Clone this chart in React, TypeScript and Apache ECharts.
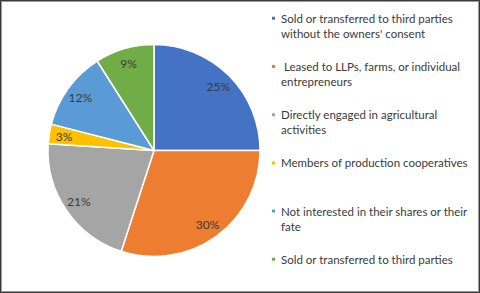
import React, { useEffect, useRef } from "react";
import * as echarts from "echarts";

const categories = [
  "Sold or transferred to third parties without the owners' consent",
  " Leased to LLPs, farms, or individual entrepreneurs",
  "Directly engaged in agricultural activities",
  "Members of production cooperatives",
  "Not interested in their shares or their fate",
  "Sold or transferred to third parties",
];
const legendLabels = [
  "Sold or transferred to third parties\nwithout the owners' consent",
  " Leased to LLPs, farms, or individual\nentrepreneurs",
  "Directly engaged in agricultural\nactivities",
  "Members of production cooperatives",
  "Not interested in their shares or their\nfate",
  "Sold or transferred to third parties",
];
const values = [25, 30, 21, 3, 12, 9];
const colors = ["#4472C4", "#ED7D31", "#A5A5A5", "#FFC000", "#5B9BD5", "#70AD47"];

const FONT = "Lato";

// every legend entry is laid out as a 3-line block whose middle line is the first text line
const legendBlock = (label: string) =>
  label.includes("\n") ? "\n" + label : "\n" + label + "\n";

export default function App() {
  const ref = useRef<HTMLDivElement>(null);
  useEffect(() => {
    if (!ref.current) return;
    const chart = echarts.init(ref.current, undefined, { renderer: "svg" });
    const center = [154, 150.5];
    chart.setOption({
      animation: false,
      color: colors,
      legend: {
        orient: "vertical",
        left: 270,
        top: -4.2,
        padding: 0,
        itemGap: 3.2,
        itemWidth: 5,
        itemHeight: 5,
        icon: "rect",
        selectedMode: false,
        formatter: (name: string) => legendBlock(legendLabels[categories.indexOf(name)]),
        textStyle: {
          fontFamily: FONT,
          fontSize: 11.5,
          color: "#3a3a3a",
          lineHeight: 15,
          backgroundColor: "rgba(255,255,255,0)",
        },
        data: categories,
      },
      series: [
        {
          type: "pie",
          center,
          radius: [0, 106],
          startAngle: 90,
          clockwise: true,
          silent: true,
          label: { show: false },
          labelLine: { show: false },
          emphasis: { disabled: true },
          itemStyle: { borderColor: "#ffffff", borderWidth: 1.5 },
          data: categories.map((n, i) => ({ name: n, value: values[i] })),
        },
        {
          type: "pie",
          center,
          radius: [70, 106],
          startAngle: 90,
          clockwise: true,
          silent: true,
          emphasis: { disabled: true },
          itemStyle: { color: "rgba(0,0,0,0)", borderWidth: 0 },
          labelLine: { show: false },
          label: {
            show: true,
            position: "inside",
            formatter: "{c}%",
            fontFamily: FONT,
            fontSize: 12,
            color: "#3a3a3a",
          },
          data: categories.map((n, i) => ({ name: n, value: values[i] })),
        },
      ],
    });
    return () => chart.dispose();
  }, []);
  return (
    <div
      style={{
        position: "fixed",
        left: 0,
        top: 0,
        width: 480,
        height: 293,
        boxSizing: "border-box",
        border: "1px solid #3a3a3a",
        boxShadow: "inset 0 0 0 1px #9a9a9a",
        background: "#fff",
      }}
    >
      <div ref={ref} style={{ position: "absolute", left: -1, top: -1, width: 480, height: 293 }} />
    </div>
  );
}
